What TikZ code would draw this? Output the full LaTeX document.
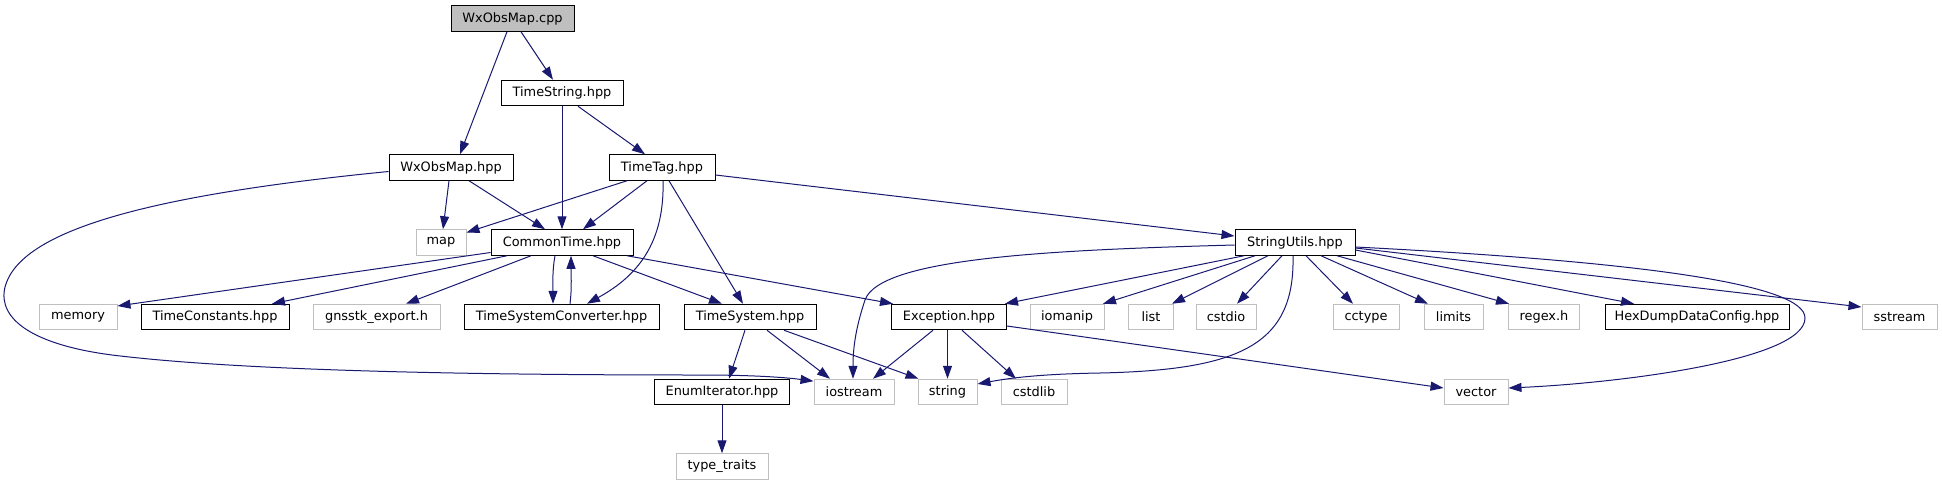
\documentclass[tikz,border=0pt]{standalone}
\usepackage{fontspec}
\setmainfont{DejaVu Sans}
\usetikzlibrary{arrows.meta}
\definecolor{edgec}{RGB}{25,25,112}
\definecolor{gry}{RGB}{191,191,191}
\tikzset{
  box/.style={draw=black, line width=1pt, minimum height=25.5pt, inner sep=0pt,
              font=\fontsize{12.9}{15}\selectfont, text=black},
  ext/.style={box, draw=gry},
  root/.style={box, fill=gry},
  e/.style={draw=edgec, line width=1pt, -{Triangle[length=13pt,width=9pt]}, edgec},
}
\begin{document}
\begin{tikzpicture}[x=1pt,y=-1pt]
\useasboundingbox (0,0) rectangle (1942,485);
% rank 0-2
\node[root, minimum width=123pt] (cpp)   at (512.5,18.5) {WxObsMap.cpp};
\node[box,  minimum width=122pt] (tstr)  at (562,93)     {TimeString.hpp};
\node[box,  minimum width=124pt] (wxh)   at (451,167.5)  {WxObsMap.hpp};
\node[box,  minimum width=106pt] (ttag)  at (662,167.5)  {TimeTag.hpp};
% rank 3
\node[ext,  minimum width=50pt]  (map)   at (441,242.5)  {map};
\node[box,  minimum width=142pt] (ct)    at (562,242.5)  {CommonTime.hpp};
\node[box,  minimum width=120pt] (su)    at (1295,242.5) {StringUtils.hpp};
% rank 4
\node[ext,  minimum width=78pt]  (memory) at (78,317)    {memory};
\node[box,  minimum width=148pt] (tconst) at (215,317)   {TimeConstants.hpp};
\node[ext,  minimum width=127pt] (gnss)   at (376.5,317) {gnsstk\_export.h};
\node[box,  minimum width=195pt] (tsc)    at (561.5,317) {TimeSystemConverter.hpp};
\node[box,  minimum width=132pt] (ts)     at (750,317)   {TimeSystem.hpp};
\node[box,  minimum width=115pt] (exc)    at (949,317)   {Exception.hpp};
\node[ext,  minimum width=74pt]  (iomanip) at (1067,317) {iomanip};
\node[ext,  minimum width=45pt]  (list)   at (1151,317)  {list};
\node[ext,  minimum width=60pt]  (cstdio) at (1226,317)  {cstdio};
\node[ext,  minimum width=66pt]  (cctype) at (1366,317)  {cctype};
\node[ext,  minimum width=59pt]  (limits) at (1453.5,317) {limits};
\node[ext,  minimum width=71pt]  (regex)  at (1544,317)  {regex.h};
\node[box,  minimum width=184pt] (hex)    at (1697,317)  {HexDumpDataConfig.hpp};
\node[ext,  minimum width=75pt]  (sstream) at (1899.5,317) {sstream};
% rank 5-6
\node[box,  minimum width=135pt] (enum)   at (722,392)   {EnumIterator.hpp};
\node[ext,  minimum width=80pt]  (iostream) at (854,392) {iostream};
\node[ext,  minimum width=59pt]  (string) at (947.5,392) {string};
\node[ext,  minimum width=66pt]  (cstdlib) at (1034,392) {cstdlib};
\node[ext,  minimum width=64pt]  (vector) at (1476,392)  {vector};
\node[ext,  minimum width=92pt]  (tt)     at (722,466.5) {type\_traits};

% edges
\draw[e] ([xshift=-5.5pt]cpp.south) -- ([xshift=9pt]wxh.north);
\draw[e] ([xshift=8.5pt]cpp.south) -- ([xshift=-9pt]tstr.north);
\draw[e] (tstr.south) -- (ct.north);
\draw[e] ([xshift=16pt]tstr.south) -- ([xshift=-17pt]ttag.north);
\draw[e] ([xshift=-2pt]wxh.south) -- ([xshift=2pt]map.north);
\draw[e] ([xshift=18pt]wxh.south) -- ([xshift=-17pt]ct.north);
\draw[e] ([yshift=-4pt]wxh.west) .. controls (150,195) and (20,230) .. (5,287)
   .. controls (-3,320) and (35,345) .. (112,355)
   .. controls (250,372) and (500,375) .. (700,375)
   .. controls (760,375) and (790,378) .. (iostream.165);
\draw[e] ([xshift=-35pt]ttag.south) -- ([yshift=10pt]map.east);
\draw[e] ([xshift=-15pt]ttag.south) -- ([xshift=21pt]ct.north);
\draw[e] ([xshift=1pt]ttag.south) .. controls (665,250) and (630,280) .. ([xshift=25.5pt]tsc.north);
\draw[e] ([xshift=7pt]ttag.south) -- ([xshift=-7pt]ts.north);
\draw[e] ([yshift=-7.5pt]ttag.east) -- ([yshift=6.5pt]su.west);
\draw[e] ([yshift=-10pt]ct.west) -- ([yshift=11pt]memory.east);
\draw[e] ([xshift=-55pt]ct.south) -- ([xshift=57pt]tconst.north);
\draw[e] ([xshift=-31pt]ct.south) -- ([xshift=29.5pt]gnss.north);
\draw[e] ([xshift=-7pt]ct.south) .. controls +(-3,15) and +(0,-15) .. ([xshift=-8.5pt]tsc.north);
\draw[e] ([xshift=8.5pt]tsc.north) .. controls +(2,-15) and +(0,15) .. ([xshift=9pt]ct.south);
\draw[e] ([xshift=31pt]ct.south) -- ([xshift=-28pt]ts.north);
\draw[e] ([xshift=65pt]ct.south) -- ([xshift=2pt]exc.north west);
\draw[e] ([xshift=-5pt]ts.south) -- ([xshift=7pt]enum.north);
\draw[e] ([xshift=17pt]ts.south) -- ([xshift=-24pt]iostream.north);
\draw[e] ([xshift=34pt]ts.south) -- ([xshift=1pt]string.north west);
\draw[e] ([xshift=-16pt]exc.south) -- ([xshift=19pt]iostream.north);
\draw[e] ([xshift=-1.5pt]exc.south) -- (string.north);
\draw[e] ([xshift=13pt]exc.south) -- ([xshift=-18pt]cstdlib.north);
\draw[e] ([yshift=-9pt]exc.east) -- ([yshift=4pt]vector.west);
\draw[e] ([yshift=-2.5pt]su.west) .. controls (1050,250) and (880,258) .. (865,300)
   .. controls (855,330) and (853,350) .. ([xshift=-1pt]iostream.north);
\draw[e] ([xshift=-51pt]su.south) -- ([xshift=-2pt]exc.north east);
\draw[e] ([xshift=-40pt]su.south) -- ([xshift=36pt]iomanip.north);
\draw[e] ([xshift=-27pt]su.south) -- ([xshift=21pt]list.north);
\draw[e] ([xshift=-13pt]su.south) -- ([xshift=11pt]cstdio.north);
\draw[e] ([xshift=-2pt]su.south) .. controls (1295,345) and (1240,370) .. (1100,373)
   .. controls (1040,374) and (1010,378) .. (string.15);
\draw[e] ([xshift=11pt]su.south) -- ([xshift=-13pt]cctype.north);
\draw[e] ([xshift=26pt]su.south) -- ([xshift=-25.5pt]limits.north);
\draw[e] ([xshift=42pt]su.south) -- ([xshift=-35pt]regex.north);
\draw[e] ([yshift=-7.5pt]su.east) -- ([xshift=-63pt]hex.north);
\draw[e] ([yshift=-5.5pt]su.east) -- ([yshift=10pt]sstream.west);
\draw[e] ([yshift=-4.5pt]su.east) .. controls (1650,262) and (1805,285) .. (1805,318)
   .. controls (1805,360) and (1620,383) .. ([yshift=4pt]vector.east);
\draw[e] (enum.south) -- (tt.north);
\end{tikzpicture}
\end{document}
